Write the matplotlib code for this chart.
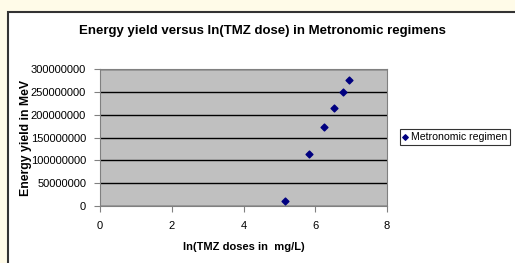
import matplotlib
matplotlib.use("Agg")
import matplotlib.pyplot as plt
from matplotlib.patches import Rectangle

# Data
x_ln_dose = [5.15, 5.83, 6.25, 6.53, 6.78, 6.94]
energy_yield = [10000000, 114000000, 172000000, 215000000, 249000000, 276000000]
x_ticks = [0, 2, 4, 6, 8]
y_ticks = [0, 50000000, 100000000, 150000000, 200000000, 250000000, 300000000]
series_name = "Metronomic regimen"

plt.rcParams['font.family'] = ['Liberation Sans', 'DejaVu Sans']

W, H = 515, 263
fig = plt.figure(figsize=(W / 100, H / 100), dpi=100)
fig.patch.set_facecolor('#FFFBE8')

# White chart area with dark border
fig.patches.append(Rectangle((8 / W, -0.1), 1.2, (H - 12) / H + 0.1, transform=fig.transFigure,
                             facecolor='white', edgecolor='#333333', linewidth=1.5, zorder=-5))

ax = fig.add_axes([100 / W, 1 - 206 / H, (387 - 100) / W, (206 - 69) / H])
ax.set_zorder(2)
ax.set_facecolor('#C0C0C0')
ax.scatter(x_ln_dose, energy_yield, marker='D', s=12, color='#000080', zorder=3,
           label=series_name)
ax.set_xlim(0, 8)
ax.set_ylim(0, 300000000)
ax.set_xticks(x_ticks)
ax.set_yticks(y_ticks)
ax.set_xticklabels([str(v) for v in x_ticks])
ax.set_yticklabels([str(v) for v in y_ticks])
ax.yaxis.grid(True, color='black', linewidth=1)
ax.set_axisbelow(True)
for s in ax.spines.values():
    s.set_color('#808080')
ax.tick_params(axis='both', direction='out', length=4, color='#808080', labelsize=8, pad=6)
ax.tick_params(axis='x', pad=7)

ax.set_xlabel('ln(TMZ doses in  mg/L)', fontsize=8, fontweight='bold', labelpad=8)
ax.set_ylabel('Energy yield in MeV', fontsize=8.8, fontweight='bold')
ax.yaxis.set_label_coords((32 - 100) / 287, (206 - 138.5) / 137)

fig.text(262 / W, 1 - 31 / H, 'Energy yield versus ln(TMZ dose) in Metronomic regimens',
         ha='center', va='center', fontsize=9.5, fontweight='bold', zorder=3)

leg = ax.legend(loc='center left', bbox_to_anchor=(400 / W, 1 - 137 / H),
                bbox_transform=fig.transFigure, fontsize=7.6, frameon=True, fancybox=False,
                handlelength=0.5, handletextpad=0.25, borderpad=0.45, markerscale=0.8,
                borderaxespad=0)
leg.get_frame().set_edgecolor('black')
leg.get_frame().set_linewidth(0.8)
leg._legend_box.sep = 2
leg._legend_box.pad = 2

fig.savefig('out.png', dpi=100, facecolor=fig.get_facecolor())
